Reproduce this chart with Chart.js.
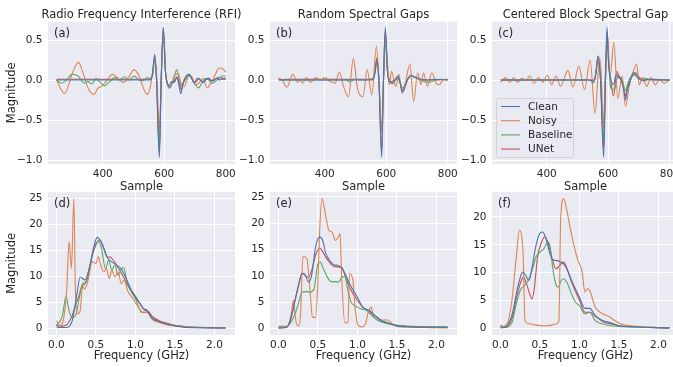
<!DOCTYPE html>
<html>
<head>
<meta charset="utf-8">
<script src="https://cdn.jsdelivr.net/npm/chart.js@4.4.1/dist/chart.umd.min.js"></script>
<style>
  html, body { margin: 0; padding: 0; background: #fff; width: 673px; height: 367px; overflow: hidden; position: relative; }
  canvas { position: absolute; }
</style>
</head>
<body>
<canvas id="pa"></canvas>
<canvas id="pb"></canvas>
<canvas id="pc"></canvas>
<canvas id="pd"></canvas>
<canvas id="pe"></canvas>
<canvas id="pf"></canvas>
<script>
// ---- labels, ticks ----
const seriesNames = ["Clean", "Noisy", "Baseline", "UNet"];
const panelTitles = ["Radio Frequency Interference (RFI)", "Random Spectral Gaps", "Centered Block Spectral Gap"];
const panelLetters = ["(a)", "(b)", "(c)", "(d)", "(e)", "(f)"];
const sampleTicks = [400, 600, 800];
const ampTicks = [-1.0, -0.5, 0.0, 0.5];
const freqTicks = [0, 0.5, 1.0, 1.5, 2.0];
const magTicks = [0, 5, 10, 15, 20, 25];
const magTicksBlock = [0, 5, 10, 15, 20];

// ---- time domain, [sample, magnitude] ----
const rfiClean = [[250,0],[555,0],[562,0.08],[569,0.32],[575,0],[584,-0.97],[590,0],[597,0.66],[604,0.1],[610,-0.05],[616,-0.07],[624,-0.02],[632,-0.03],[641,0.03],[647,-0.05],[654,-0.17],[660,-0.06],[667,0.02],[680,0.07],[690,0.01],[697,-0.04],[705,0.01],[712,0.02],[720,-0.01],[728,-0.03],[737,0.01],[744,0.02],[752,-0.01],[760,-0.01],[770,0.02],[780,0],[790,0.01],[800,0.01]];
const rfiNoisy = [[250,0],[262,-0.1],[276,-0.17],[290,-0.05],[305,0.12],[321,0.22],[335,0.1],[352,-0.1],[371,-0.18],[385,-0.1],[397,-0.08],[410,-0.02],[432,0.07],[450,0.02],[468,-0.03],[485,0.04],[502,0.13],[518,0.05],[532,-0.1],[545,-0.18],[555,-0.08],[562,0.1],[569,0.28],[576,0],[584,-0.62],[590,0],[597,0.6],[604,0.1],[611,-0.05],[620,-0.08],[632,0.05],[645,0.08],[655,-0.05],[665,-0.08],[680,0.05],[690,0.04],[700,-0.06],[712,-0.04],[725,0.02],[740,-0.1],[752,-0.03],[765,0.06],[778,0.15],[790,0.14],[800,0.1]];
const rfiBaseline = [[250,0],[266,-0.04],[282,0],[300,0.07],[320,0.05],[340,-0.04],[352,-0.02],[365,-0.05],[378,0.02],[390,-0.02],[405,-0.07],[420,-0.03],[438,0.03],[455,0],[470,0.04],[485,0],[502,0.05],[518,0],[530,-0.01],[545,0.03],[555,0.02],[562,0.06],[569,0.25],[575,0],[584,-0.85],[590,0],[597,0.6],[604,0.1],[611,-0.06],[618,-0.1],[628,-0.02],[641,0.13],[648,0.02],[655,-0.08],[663,-0.03],[672,0.02],[683,0.07],[692,0],[700,-0.05],[712,-0.1],[722,-0.04],[735,0.02],[745,0],[755,-0.04],[765,-0.02],[780,0.03],[790,0.05],[800,0.05]];
const rfiUnet = [[250,0.01],[555,0.01],[562,0.08],[569,0.3],[575,0],[584,-0.9],[590,0],[597,0.65],[604,0.1],[610,-0.03],[616,-0.1],[624,-0.05],[632,-0.02],[641,0.04],[648,-0.03],[655,-0.12],[662,-0.03],[670,0.04],[680,0.06],[690,0.02],[700,-0.03],[712,0.01],[722,-0.02],[735,0.01],[745,0.02],[755,-0.01],[768,0.02],[780,0.03],[790,0.02],[800,0.02]];

const gapsClean = [[250,0],[555,0],[562,0.06],[570,0.25],[576,0],[585,-0.97],[591,0],[597,0.66],[604,0.1],[610,-0.02],[618,-0.02],[628,0],[638,0.05],[646,-0.05],[652,-0.15],[660,-0.1],[670,0.02],[680,0.06],[692,0.04],[705,0.02],[720,0],[740,0],[760,0.01],[800,0]];
const gapsNoisy = [[250,0.02],[262,0],[277,-0.09],[296,0.07],[312,-0.03],[320,0],[328,-0.04],[340,0.03],[354,-0.03],[370,0.03],[386,0],[400,0.03],[418,-0.02],[434,-0.04],[447,0.1],[461,-0.08],[477,-0.21],[493,0.27],[506,-0.1],[524,-0.21],[538,0.13],[553,-0.19],[568,0.42],[576,0],[585,-0.65],[591,0],[596,0.58],[604,0.2],[610,-0.06],[617,0.11],[631,-0.08],[641,0.07],[652,-0.17],[663,-0.02],[677,0.2],[689,-0.27],[702,0.09],[713,-0.06],[721,0.09],[734,-0.08],[748,0.09],[762,-0.04],[772,-0.06],[785,0],[800,0.01]];
const gapsBaseline = [[250,0],[470,0],[480,-0.02],[500,0.01],[520,0],[555,0.02],[562,0.08],[570,0.22],[576,0],[585,-0.65],[591,0],[598,0.45],[605,0.08],[612,-0.04],[622,-0.03],[635,0.02],[645,-0.03],[652,-0.1],[662,-0.06],[672,0.02],[682,0.05],[695,0.03],[710,0],[725,-0.02],[740,-0.03],[760,0],[780,0.01],[800,0]];
const gapsUnet = [[250,0.02],[262,0],[275,0.01],[555,0.01],[562,0.08],[570,0.28],[576,0],[585,-0.9],[591,0],[597,0.6],[604,0.1],[612,0],[620,-0.05],[630,0],[640,0.03],[652,-0.13],[662,-0.05],[672,0.02],[682,0.05],[695,0.03],[710,0.01],[740,0],[770,0],[800,0.01]];

const blockClean = [[250,0],[540,0],[550,-0.02],[558,0.05],[567,0.3],[575,0],[585,-0.97],[591,0],[596,0.66],[601,0.2],[606,0.05],[617,-0.06],[626,0.07],[634,0.03],[642,0],[650,-0.12],[656,-0.25],[662,-0.12],[669,-0.04],[682,0.08],[696,0.03],[712,-0.01],[730,0.01],[760,0],[800,0]];
const blockNoisy = [[250,-0.03],[266,0.03],[280,-0.03],[292,0.03],[305,-0.03],[319,0.02],[333,-0.01],[344,0.05],[359,-0.04],[373,0.03],[387,-0.03],[402,0.06],[416,-0.06],[430,0.05],[445,-0.08],[469,0.12],[485,-0.09],[504,0.17],[523,-0.12],[541,0.25],[557,-0.42],[572,0.28],[578,0],[584,-0.6],[590,0],[596,0.6],[602,0.2],[607,0.07],[618,0.47],[631,-0.23],[645,0.05],[656,-0.33],[669,-0.06],[680,0.09],[692,0.2],[701,-0.06],[712,0.03],[725,-0.08],[739,0.03],[753,-0.06],[766,0],[782,-0.04],[798,0]];
const blockBaseline = [[250,0],[540,0],[552,-0.04],[560,0.1],[567,0.3],[575,0],[584,-0.75],[590,0],[597,0.45],[603,0.1],[608,-0.1],[620,-0.12],[632,0.05],[645,0],[656,-0.13],[664,-0.04],[670,0.02],[680,0.05],[690,0.09],[705,0],[720,0.02],[740,0],[800,0]];
const blockUnet = [[250,0],[545,0],[556,0],[567,0.25],[575,0],[585,-0.85],[591,0],[597,0.6],[603,0.15],[608,0],[617,-0.2],[628,0.11],[636,0.04],[642,0],[650,-0.1],[656,-0.2],[663,-0.08],[670,-0.02],[682,0.1],[692,0.07],[702,0.03],[720,0],[750,0.01],[800,0]];

// ---- spectra, [GHz, magnitude] ----
const rfiSpecClean = [[0,0.3],[0.05,0.2],[0.13,0.2],[0.2,1.5],[0.26,6.7],[0.3,9.9],[0.36,9.3],[0.43,12.5],[0.49,16.7],[0.52,17.5],[0.57,16.4],[0.65,13.5],[0.7,12.8],[0.76,12.2],[0.83,11.2],[0.89,9.3],[0.97,6.7],[1.06,4.7],[1.1,3.8],[1.14,3.6],[1.2,2.1],[1.29,1.4],[1.41,0.8],[1.5,0.5],[1.66,0.2],[2.14,0.1]];
const rfiSpecNoisy = [[0,1.5],[0.04,0.5],[0.08,1.2],[0.1,2.8],[0.13,7.3],[0.16,16.7],[0.19,11.5],[0.22,25],[0.24,7.3],[0.27,2.8],[0.3,3.4],[0.33,8.0],[0.36,7.6],[0.4,9.3],[0.45,12.8],[0.5,12.5],[0.53,13.8],[0.56,12.2],[0.6,10.9],[0.63,11.5],[0.67,9.6],[0.7,11.2],[0.74,9.9],[0.78,10.9],[0.82,8.6],[0.86,9.3],[0.9,7.3],[0.97,5.7],[1.05,3.8],[1.1,3.1],[1.15,3.1],[1.22,1.6],[1.3,1.2],[1.4,0.7],[1.5,0.5],[1.7,0.3],[2.14,0.1]];
const rfiSpecBaseline = [[0,0.5],[0.05,1.5],[0.08,2.8],[0.12,6.2],[0.16,3.4],[0.2,2.1],[0.25,2.8],[0.29,6.0],[0.33,8.6],[0.37,8.9],[0.42,11.9],[0.47,15.4],[0.53,16.7],[0.57,15.4],[0.62,11.5],[0.66,13.1],[0.7,11.2],[0.74,12.2],[0.78,10.2],[0.82,11.3],[0.85,11.7],[0.9,8.6],[1.0,5.7],[1.08,3.1],[1.15,3.1],[1.22,1.8],[1.3,1.2],[1.4,0.8],[1.5,0.5],[1.7,0.3],[2.14,0.1]];
const rfiSpecUnet = [[0,0.8],[0.04,0.2],[0.08,0.5],[0.12,0.6],[0.16,1.3],[0.2,2.5],[0.24,4.5],[0.28,6.0],[0.32,8.0],[0.36,8.6],[0.4,9.9],[0.45,13.8],[0.5,16.1],[0.55,17.0],[0.6,15.4],[0.64,13.8],[0.68,13.7],[0.72,13.1],[0.76,12.2],[0.8,11.2],[0.85,9.9],[0.9,8.3],[1.0,6.2],[1.07,4.5],[1.12,3.5],[1.16,3.3],[1.22,2.2],[1.3,1.5],[1.4,1.0],[1.5,0.6],[1.7,0.3],[2.14,0.1]];

const gapsSpecClean = [[0,0.1],[0.1,0.2],[0.15,1.5],[0.2,4.6],[0.25,7.8],[0.3,10.4],[0.33,10.4],[0.38,8.8],[0.42,10.1],[0.47,15.5],[0.52,17.4],[0.56,16.7],[0.6,14.2],[0.65,12.9],[0.7,12.1],[0.75,12.0],[0.8,11.5],[0.85,10.2],[0.9,8.5],[1.0,5.9],[1.07,4.0],[1.15,3.4],[1.2,2.7],[1.3,1.5],[1.4,1.0],[1.5,0.5],[1.7,0.3],[2.14,0.2]];
const gapsSpecNoisy = [[0,0.3],[0.08,0.3],[0.12,0.5],[0.16,2.7],[0.19,5.3],[0.21,2.7],[0.23,0.8],[0.26,0.5],[0.28,2.7],[0.31,13.7],[0.36,13.2],[0.4,7.2],[0.43,2.1],[0.47,2.1],[0.5,9.1],[0.52,18.0],[0.55,24.7],[0.6,21.2],[0.64,18.6],[0.68,18.3],[0.72,16.7],[0.76,17.4],[0.78,18.0],[0.8,9.7],[0.84,1.1],[0.88,1.1],[0.9,10.4],[0.94,9.4],[0.97,4.0],[1.0,0.8],[1.05,0.3],[1.1,0.8],[1.13,2.7],[1.17,4.1],[1.2,2.7],[1.25,2.2],[1.3,1.6],[1.38,1.6],[1.45,0.8],[1.5,0.4],[1.6,0.3],[2.14,0.1]];
const gapsSpecBaseline = [[0,0.4],[0.1,0.4],[0.15,1.0],[0.2,2.4],[0.25,4.6],[0.3,6.9],[0.35,7.0],[0.4,6.9],[0.45,7.5],[0.5,12.3],[0.53,12.6],[0.57,11.3],[0.62,9.7],[0.67,8.9],[0.72,8.9],[0.76,8.8],[0.8,9.7],[0.84,9.9],[0.88,7.2],[0.92,5.0],[0.97,4.3],[1.05,3.7],[1.12,3.4],[1.18,2.5],[1.25,1.6],[1.35,1.0],[1.5,0.6],[1.7,0.4],[2.14,0.3]];
const gapsSpecUnet = [[0,0.1],[0.1,0.2],[0.15,1.5],[0.2,4.8],[0.25,8.0],[0.3,10.5],[0.34,10.0],[0.38,9.7],[0.42,11.0],[0.47,13.9],[0.52,15.3],[0.56,14.6],[0.6,13.5],[0.65,12.5],[0.7,11.8],[0.75,11.7],[0.8,11.6],[0.85,9.7],[0.9,7.8],[1.0,5.3],[1.07,4.0],[1.15,3.2],[1.2,2.6],[1.3,1.5],[1.4,1.0],[1.5,0.6],[1.7,0.3],[2.14,0.2]];

const blockSpecClean = [[0,0.3],[0.05,0.2],[0.1,0.8],[0.15,2.6],[0.2,6.2],[0.24,8.6],[0.28,10.1],[0.32,9.5],[0.36,8.6],[0.4,11.0],[0.45,14.9],[0.5,17.1],[0.53,17.3],[0.57,16.4],[0.62,13.7],[0.66,12.3],[0.7,12.2],[0.75,12.0],[0.8,11.6],[0.85,10.4],[0.9,8.6],[1.0,5.6],[1.07,3.6],[1.13,3.6],[1.2,2.3],[1.3,1.4],[1.4,1.0],[1.5,0.5],[1.7,0.3],[2.14,0.1]];
const blockSpecNoisy = [[0,0.2],[0.05,0.4],[0.1,1.4],[0.15,5.6],[0.2,12.8],[0.24,17.6],[0.27,16.4],[0.29,12.2],[0.3,5.6],[0.31,1.4],[0.35,0.9],[0.45,0.6],[0.55,0.5],[0.65,0.6],[0.7,0.8],[0.74,1.4],[0.75,8.6],[0.76,18.8],[0.8,23.3],[0.84,21.2],[0.88,18.2],[0.93,14.9],[0.98,12.2],[1.03,10.4],[1.07,6.6],[1.1,7.1],[1.13,6.8],[1.2,3.8],[1.3,2.6],[1.38,2.1],[1.45,1.4],[1.55,0.7],[1.7,0.4],[2.14,0.1]];
const blockSpecBaseline = [[0,0.1],[0.1,0.3],[0.15,1.2],[0.2,4.4],[0.25,6.8],[0.3,7.7],[0.35,8.6],[0.4,10.4],[0.45,12.8],[0.5,13.7],[0.55,14.3],[0.6,15.5],[0.63,14.6],[0.66,11.0],[0.7,8.0],[0.73,7.4],[0.77,8.6],[0.8,8.9],[0.85,8.0],[0.9,6.2],[0.95,4.7],[1.0,4.1],[1.07,2.6],[1.13,2.9],[1.2,1.4],[1.3,0.8],[1.4,0.5],[1.6,0.3],[2.14,0.1]];
const blockSpecUnet = [[0,0.6],[0.05,0.2],[0.1,0.5],[0.15,2.0],[0.2,5.3],[0.25,8.0],[0.29,9.2],[0.33,8.0],[0.37,6.2],[0.4,5.3],[0.43,7.4],[0.47,12.8],[0.52,15.5],[0.56,16.4],[0.6,15.5],[0.65,12.8],[0.7,10.7],[0.75,11.3],[0.8,11.9],[0.85,10.4],[0.9,8.3],[1.0,5.1],[1.07,2.9],[1.13,2.9],[1.2,2.2],[1.3,1.2],[1.4,0.8],[1.5,0.5],[1.7,0.3],[2.14,0.1]];

// ---- style ----
const FONT = "'DejaVu Sans', sans-serif";
const INK = "#262626";
const COLORS = ["#4C72B0", "#DD8452", "#55A868", "#C44E52"];
const FACE = "#EAEAF2";

const minus = (s) => s.replace("-", "\u2212");

// axes background (seaborn darkgrid)
const facePlugin = {
  id: "face",
  beforeDraw(chart) {
    const a = chart.chartArea, c = chart.ctx;
    c.save();
    c.fillStyle = FACE;
    c.fillRect(a.left, a.top, a.right - a.left, a.bottom - a.top);
    c.restore();
  }
};

// panel letter inside the axes + title centred over the axes
function labelPlugin(letter, title) {
  return {
    id: "panelText",
    afterDatasetsDraw(chart) {
      const a = chart.chartArea, c = chart.ctx;
      c.save();
      c.font = "11.5px " + FONT;
      c.fillStyle = INK;
      c.textBaseline = "alphabetic";
      c.textAlign = "left";
      c.fillText(letter, a.left + 6, a.top + 15.5);
      if (title) {
        c.textAlign = "center";
        c.fillText(title, (a.left + a.right) / 2, a.top - 3.3);
      }
      c.restore();
    }
  };
}

// legend box drawn inside the axes, lower left
const boxLegend = {
  id: "boxLegend",
  afterDatasetsDraw(chart) {
    const a = chart.chartArea, c = chart.ctx;
    const bx = a.left + 4, by = a.bottom - 66, bw = 77, bh = 59;
    c.save();
    c.beginPath();
    if (c.roundRect) c.roundRect(bx + 0.5, by + 0.5, bw, bh, 2); else c.rect(bx + 0.5, by + 0.5, bw, bh);
    c.fillStyle = "rgba(234,234,242,0.8)";
    c.fill();
    c.strokeStyle = "rgba(204,204,204,0.8)";
    c.lineWidth = 1;
    c.stroke();
    c.font = "10.5px " + FONT;
    c.textBaseline = "middle";
    chart.data.datasets.forEach((ds, i) => {
      const y = by + 8.5 + i * 14.2;
      c.strokeStyle = ds.borderColor;
      c.lineWidth = 1.1;
      c.beginPath();
      c.moveTo(bx + 5, y);
      c.lineTo(bx + 24, y);
      c.stroke();
      c.fillStyle = INK;
      c.fillText(ds.label, bx + 32, y + 0.5);
    });
    c.restore();
  }
};

function makePanel(id, geo, series, ax) {
  const cv = document.getElementById(id);
  cv.width = geo.w; cv.height = geo.h;
  cv.style.left = geo.x + "px"; cv.style.top = geo.y + "px";
  const plugins = [facePlugin, labelPlugin(ax.letter, ax.title)];
  if (ax.legend) plugins.push(boxLegend);
  return new Chart(cv, {
    type: "line",
    data: {
      datasets: series.map((pts, i) => ({
        label: seriesNames[i],
        data: pts.map(([x, y]) => ({ x, y })),
        borderColor: COLORS[i],
        borderWidth: 1.1,
        pointRadius: 0,
        fill: false,
        cubicInterpolationMode: "monotone"
      }))
    },
    options: {
      responsive: false,
      animation: false,
      events: [],
      layout: { padding: { top: geo.padTop, right: geo.padRight, left: 0, bottom: 0 } },
      plugins: {
        legend: { display: false },
        tooltip: { enabled: false },
        title: { display: false }
      },
      scales: {
        x: {
          type: "linear", min: ax.xMin, max: ax.xMax,
          afterBuildTicks: (s) => { s.ticks = ax.xTicks.map((v) => ({ value: v })); },
          afterFit: (s) => { s.height = geo.xH; },
          grid: { color: "#ffffff", lineWidth: 1, drawTicks: false },
          border: { display: false },
          ticks: {
            color: INK, padding: 4, maxRotation: 0, autoSkip: false,
            font: { family: FONT, size: 10.5 },
            callback: ax.xFmt
          },
          title: {
            display: true, text: ax.xLabel, color: INK,
            font: { family: FONT, size: 11.5 },
            padding: { top: 0, bottom: ax.xTitlePad }
          }
        },
        y: {
          type: "linear", min: ax.yMin, max: ax.yMax,
          afterBuildTicks: (s) => { s.ticks = ax.yTicks.map((v) => ({ value: v })); },
          afterFit: (s) => { s.width = geo.yW; },
          grid: { color: "#ffffff", lineWidth: 1, drawTicks: false },
          border: { display: false },
          ticks: {
            color: INK, padding: 5.5,
            font: { family: FONT, size: 10.5 },
            callback: ax.yFmt
          },
          title: {
            display: !!ax.yLabel, text: ax.yLabel || "", color: INK,
            font: { family: FONT, size: 11.5 },
            padding: { top: 5, bottom: 0 }
          }
        }
      }
    },
    plugins: plugins
  });
}

// column geometry
const cols = [
  { x: 0, w: 283, yW: 48, padRight: 48 },
  { x: 230, w: 267, yW: 40, padRight: 40 },
  { x: 452, w: 267, yW: 40, padRight: 40 }
];
const topRow = { y: 0, h: 195, padTop: 21.6, xH: 31 };
const botRow = { y: 180, h: 187, padTop: 11.5, xH: 32 };

const timeFmt = (v) => String(v);
const ampFmt = (v) => minus(v.toFixed(1));
const freqFmt = (v) => v.toFixed(1);
const magFmt = (v) => String(v);

const timeSets = [
  [rfiClean, rfiNoisy, rfiBaseline, rfiUnet],
  [gapsClean, gapsNoisy, gapsBaseline, gapsUnet],
  [blockClean, blockNoisy, blockBaseline, blockUnet]
];
const specSets = [
  [rfiSpecClean, rfiSpecNoisy, rfiSpecBaseline, rfiSpecUnet],
  [gapsSpecClean, gapsSpecNoisy, gapsSpecBaseline, gapsSpecUnet],
  [blockSpecClean, blockSpecNoisy, blockSpecBaseline, blockSpecUnet]
];
const specYMax = [26.25, 25.95, 24.5];
const specYMin = [-1.25, -1.24, -1.17];

["pa", "pb", "pc"].forEach((id, i) => {
  makePanel(id, Object.assign({}, cols[i], topRow), timeSets[i], {
    title: panelTitles[i], letter: panelLetters[i], legend: i === 2,
    xMin: 222, xMax: 830, xTicks: sampleTicks, xFmt: timeFmt, xLabel: "Sample", xTitlePad: 1.5,
    yMin: -1.05, yMax: 0.73, yTicks: ampTicks, yFmt: ampFmt, yLabel: i === 0 ? "Magnitude" : null
  });
});

["pd", "pe", "pf"].forEach((id, i) => {
  makePanel(id, Object.assign({}, cols[i], botRow), specSets[i], {
    title: null, letter: panelLetters[i + 3], legend: false,
    xMin: -0.107, xMax: 2.26, xTicks: freqTicks, xFmt: freqFmt, xLabel: "Frequency (GHz)", xTitlePad: 4.5,
    yMin: specYMin[i], yMax: specYMax[i], yTicks: i === 2 ? magTicksBlock : magTicks, yFmt: magFmt,
    yLabel: i === 0 ? "Magnitude" : null
  });
});
</script>
</body>
</html>
